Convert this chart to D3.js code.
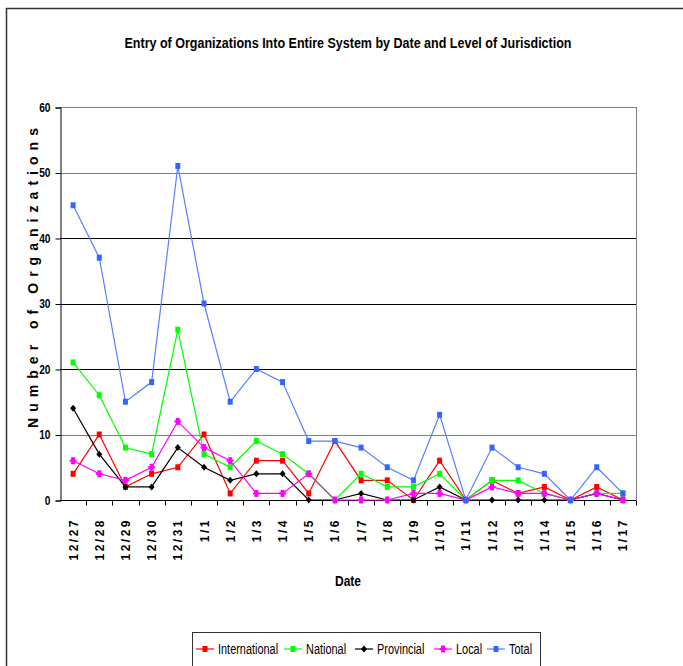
<!DOCTYPE html>
<html><head><meta charset="utf-8">
<script src="https://cdn.jsdelivr.net/npm/d3@7"></script>
<style>
html,body{margin:0;padding:0;background:#fff;}
svg{display:block;}
</style></head>
<body>
<svg id="chart" width="683" height="666"></svg>
<script>
const dates = ["12/27","12/28","12/29","12/30","12/31","1/1","1/2","1/3","1/4","1/5","1/6","1/7","1/8","1/9","1/10","1/11","1/12","1/13","1/14","1/15","1/16","1/17"];
const international = [4,10,2,4,5,10,1,6,6,1,9,3,3,0,6,0,3,1,2,0,2,0];
const national      = [21,16,8,7,26,7,5,9,7,4,0,4,2,2,4,0,3,3,1,0,1,1];
const provincial    = [14,7,2,2,8,5,3,4,4,0,0,1,0,0,2,0,0,0,0,0,1,0];
const local         = [6,4,3,5,12,8,6,1,1,4,0,0,0,1,1,0,2,1,1,0,1,0];
const total         = [45,37,15,18,51,30,15,20,18,9,9,8,5,3,13,0,8,5,4,0,5,1];
const yTicks = [0,10,20,30,40,50,60];
const seriesNames = ["International","National","Provincial","Local","Total"];

const series = [
  {name: seriesNames[0], values: international, color: "#ff0000", marker: "square"},
  {name: seriesNames[1], values: national, color: "#00ff00", marker: "square"},
  {name: seriesNames[2], values: provincial, color: "#000000", marker: "diamond"},
  {name: seriesNames[3], values: local, color: "#ff00ff", marker: "plus"},
  {name: seriesNames[4], values: total, color: "#5580ff", mcolor: "#3366ff", marker: "square"}
];

const FONT = "'Liberation Sans Narrow','Arial Narrow','Liberation Sans',Arial,sans-serif";
const svg = d3.select("#chart");
const L = 60, R = 636, T = 107, B = 500;

function narrow(sel, f) {
  sel.each(function() {
    const w = this.getComputedTextLength();
    d3.select(this).attr("textLength", w * (f || 0.8)).attr("lengthAdjust", "spacingAndGlyphs");
  });
}

// outer frame
svg.append("line").attr("x1",6).attr("x2",683).attr("y1",8.5).attr("y2",8.5).attr("stroke","#333").attr("stroke-width",1.5);
svg.append("line").attr("x1",6.5).attr("x2",6.5).attr("y1",8).attr("y2",666).attr("stroke","#333").attr("stroke-width",1.5);

const x = d3.scaleBand().domain(dates).range([L, R]).paddingInner(0).paddingOuter(0);
const y = d3.scaleLinear().domain([0,60]).range([B, T]);
const cx = d => x(d) + x.bandwidth()/2;

// gridlines
svg.append("g").selectAll("line").data(yTicks.filter(v => v > 0)).join("line")
  .attr("x1", L).attr("x2", R)
  .attr("y1", d => Math.round(y(d)) + 0.5).attr("y2", d => Math.round(y(d)) + 0.5)
  .attr("stroke", d => (d === 20 || d === 30 || d === 40) ? "#000" : "#808080")
  .attr("stroke-width", 1);
svg.append("line").attr("x1", R + 0.5).attr("x2", R + 0.5).attr("y1", T).attr("y2", B).attr("stroke", "#808080");

// y axis
const yAxis = d3.axisLeft(y).tickValues(yTicks).tickSize(5).tickPadding(5);
const gy = svg.append("g").attr("transform", `translate(${L + 0.5},0.5)`).call(yAxis);
gy.select(".domain").attr("stroke", "#000");
gy.selectAll(".tick line").attr("stroke", "#000");
gy.selectAll(".tick text").attr("font-family", FONT).attr("font-weight", "bold").attr("font-size", 12).attr("fill", "#000");
narrow(gy.selectAll(".tick text"), 0.85);

// x axis
const xAxis = d3.axisBottom(x).tickSize(0).tickFormat("");
const gx = svg.append("g").attr("transform", `translate(0,${B + 0.5})`).call(xAxis);
gx.select(".domain").attr("stroke", "#000").attr("d", `M${L},0H${R}`);
gx.append("g").selectAll("line").data(dates).join("line")
  .attr("x1", d => Math.round(x(d) + x.bandwidth()) + 0.5)
  .attr("x2", d => Math.round(x(d) + x.bandwidth()) + 0.5)
  .attr("y1", 0).attr("y2", 5).attr("stroke", "#000");

// x labels rotated
svg.append("g").selectAll("text").data(dates).join("text")
  .attr("transform", d => `translate(${cx(d) + 4.5},518) rotate(-90)`)
  .attr("text-anchor", "end")
  .attr("font-family", FONT).attr("font-weight", "bold").attr("font-size", 12)
  .attr("letter-spacing", "2.5px")
  .text(d => d);

// titles
const title = svg.append("text").attr("x", 348).attr("y", 48).attr("text-anchor", "middle")
  .attr("font-family", FONT).attr("font-weight", "bold").attr("font-size", 14)
  .text("Entry of Organizations Into Entire System by Date and Level of Jurisdiction");
title.attr("textLength", 447).attr("lengthAdjust", "spacingAndGlyphs");
const dl = svg.append("text").attr("x", 348).attr("y", 586).attr("text-anchor", "middle")
  .attr("font-family", FONT).attr("font-weight", "bold").attr("font-size", 15)
  .text("Date");
narrow(dl, 0.8);
svg.append("text").attr("transform", "translate(38,278) rotate(-90)").attr("text-anchor", "middle")
  .attr("font-family", FONT).attr("font-weight", "bold").attr("font-size", 14)
  .attr("textLength", 300).attr("lengthAdjust", "spacing")
  .text("Number of Organizations");

// series
const line = d3.line().x((d, i) => cx(dates[i])).y(d => y(d));
function drawMarker(g, type, color, px, py) {
  if (type === "square") {
    g.append("rect").attr("x", px - 2.5).attr("y", py - 3).attr("width", 5).attr("height", 6).attr("fill", color);
  } else if (type === "diamond") {
    g.append("path").attr("d", `M${px},${py-3.5}L${px+3},${py}L${px},${py+3.5}L${px-3},${py}Z`).attr("fill", color);
  } else {
    g.append("rect").attr("x", px - 2).attr("y", py - 3.5).attr("width", 4).attr("height", 7).attr("fill", color);
    g.append("rect").attr("x", px - 3.5).attr("y", py - 1).attr("width", 7).attr("height", 2).attr("fill", color);
  }
}
series.forEach(s => {
  const g = svg.append("g");
  g.append("path").datum(s.values).attr("d", line).attr("fill", "none")
    .attr("stroke", s.color).attr("stroke-width", 1.2);
  s.values.forEach((v, i) => drawMarker(g, s.marker, s.mcolor || s.color, cx(dates[i]), y(v)));
});

// legend
const lg = svg.append("g");
lg.append("rect").attr("x", 192.5).attr("y", 632.5).attr("width", 348).attr("height", 40)
  .attr("fill", "#fff").attr("stroke", "#333").attr("stroke-width", 1);
const legendPos = [196, 284, 355, 434, 487];
series.forEach((s, i) => {
  const lx = legendPos[i], ly = 649;
  lg.append("line").attr("x1", lx).attr("x2", lx + 18).attr("y1", ly).attr("y2", ly).attr("stroke", s.color).attr("stroke-width", 1.2);
  drawMarker(lg, s.marker, s.mcolor || s.color, lx + 9, ly);
  const t = lg.append("text").attr("x", lx + 22).attr("y", ly + 5).attr("font-family", FONT).attr("font-size", 14).text(s.name);
  narrow(t, 0.78);
});
</script>
</body></html>
